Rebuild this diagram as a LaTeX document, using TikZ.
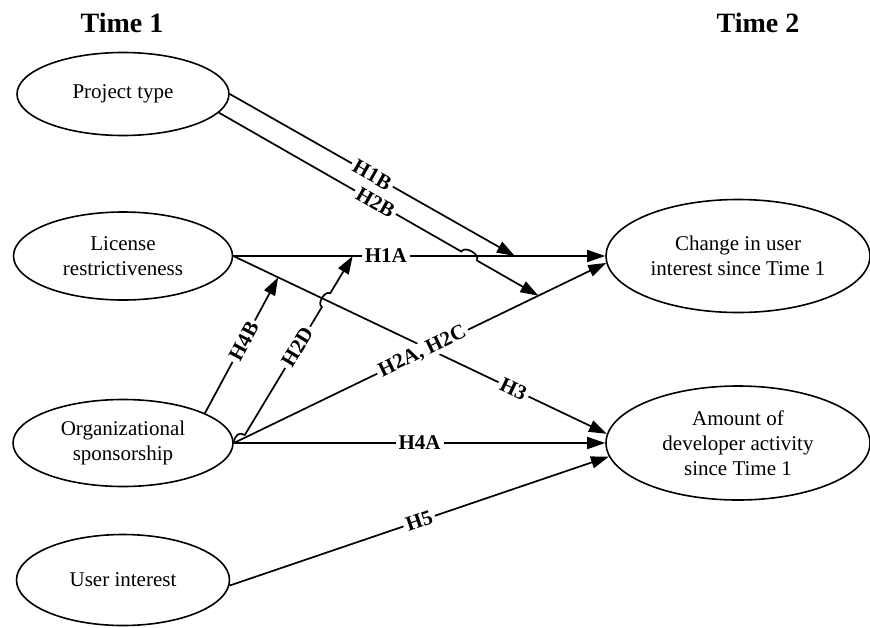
\documentclass[tikz,border=0pt]{standalone}
\usepackage{fontspec}
\setmainfont{Liberation Serif}
\usetikzlibrary{shapes.geometric,arrows.meta,calc,intersections}
\begin{document}
\begin{tikzpicture}[x=1pt,y=1pt,
 var/.style={ellipse,draw,line width=1.6pt,inner sep=0pt,align=center,font=\fontsize{21}{25}\selectfont},
 arr/.style={line width=1.7pt,-{Triangle[length=18pt,width=12pt]}},
 lbl/.style={font=\bfseries\fontsize{21}{25}\selectfont,fill=white,inner xsep=3pt,inner ysep=1pt,sloped},
 ttl/.style={font=\bfseries\fontsize{28}{32}\selectfont}]
\useasboundingbox (0,0) rectangle (870,-627);
\node[ttl] (t1) at (122,-23) {Time 1};
\node[ttl] (t2) at (758,-23) {Time 2};
\node[var,minimum width=212pt,minimum height=83pt] (pt) at (123,-94) {Project type};
\node[var,minimum width=219pt,minimum height=88pt] (lic) at (123,-256) {License\\restrictiveness};
\node[var,minimum width=220pt,minimum height=87pt] (org) at (123,-443) {Organizational\\sponsorship};
\node[var,minimum width=213pt,minimum height=91pt] (ui) at (123,-580) {User interest};
\node[var,minimum width=264pt,minimum height=113pt] (chg) at (738,-256) {Change in user\\interest since Time 1};
\node[var,minimum width=264pt,minimum height=114pt] (amt) at (738,-443) {Amount of\\developer activity\\since Time 1};
\coordinate (h1bT) at ($(lic.east)!0.757!(chg.west)$);
\coordinate (h2dT) at ($(lic.east)!0.321!(chg.west)$);
\coordinate (h4bT) at ($(lic.east)!0.12!(amt.176)$);
\coordinate (h2bT) at ($(org.east)!0.818!(chg.183)$);
\coordinate (h2dS) at ($(org.east)+(11,8)$);
\path[name path=l1a] (lic.east) -- (chg.west);
\path[name path=l2b] (pt.-11) -- (h2bT);
\path[name path=l3] (lic.east) -- (amt.176);
\path[name path=l2d] (h2dS) -- (h2dT);
\path[name intersections={of=l1a and l2b,by=x2b}];
\path[name intersections={of=l3 and l2d,by=x2d}];
\draw[arr] (lic.east) -- (amt.176) node[lbl,pos=0.75] {H3};
\draw[arr] (lic.east) -- (chg.west) node[lbl,pos=0.41] {H1A};
\draw[arr] (org.east) -- (amt.west) node[lbl,pos=0.5] {H4A};
\draw[arr] (ui.-3) -- (amt.186) node[lbl,pos=0.5] {H5};
\draw[arr] (org.east) -- (chg.183) node[lbl,pos=0.507] {H2A, H2C};
\draw[arr] (pt.east) -- (h1bT) node[lbl,pos=0.5] {H1B};
\draw[arr] (pt.-11) -- ($(x2b)!9pt!(pt.-11)$) to[bend left=90] ($(x2b)!9pt!(h2bT)$) -- (h2bT);
\path (pt.-11) -- (h2bT) node[lbl,pos=0.49] {H2B};
\draw[arr] (org.20) -- (h4bT) node[lbl,pos=0.53] {H4B};
\draw[arr] (org.east) .. controls +(1,9) and +(-5,3) .. (h2dS) -- ($(x2d)!8pt!(h2dS)$) to[bend left=90] ($(x2d)!8pt!(h2dT)$) -- (h2dT);
\path (h2dS) -- (h2dT) node[lbl,pos=0.49] {H2D};
\end{tikzpicture}
\end{document}
